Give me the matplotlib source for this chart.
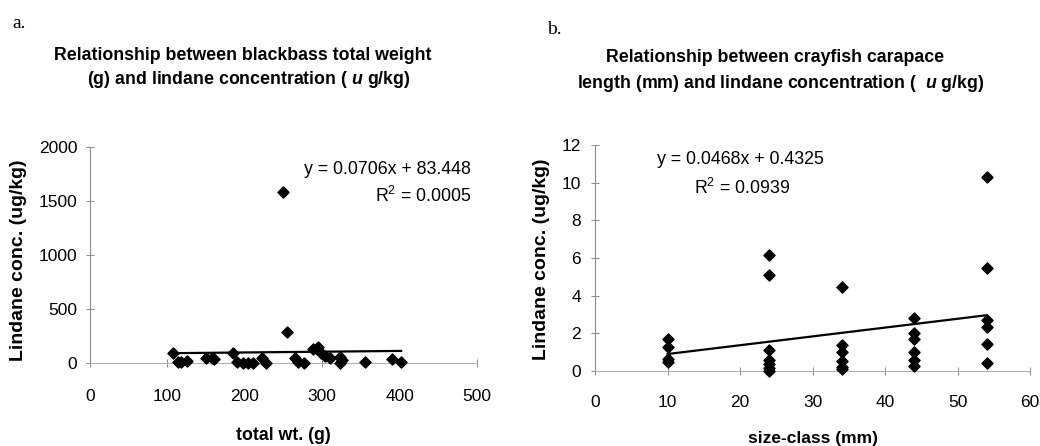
import matplotlib
matplotlib.use('Agg')
import matplotlib.pyplot as plt

# blackbass: total weight (g) vs lindane (ug/kg)
bass_wt = [107, 114, 118, 125, 150, 157, 160, 185, 190, 198, 204, 211, 222, 227,
           249, 254, 265, 269, 277, 288, 295, 299, 303, 310, 323, 323, 326, 355, 390, 402]
bass_lin = [90, 12, 12, 21, 50, 43, 40, 90, 12, 0, 0, 3, 43, 0,
            1580, 290, 43, 12, 0, 127, 151, 90, 65, 43, 58, 0, 28, 12, 34, 12]
bass_slope = 0.0706
bass_icpt = 83.448

# crayfish: size class (mm) vs lindane (ug/kg)
cray_size = [10, 10, 10, 10,
             24, 24, 24, 24, 24, 24, 24,
             34, 34, 34, 34, 34, 34,
             44, 44, 44, 44, 44, 44,
             54, 54, 54, 54, 54, 54]
cray_lin = [1.7, 1.27, 0.64, 0.48,
            6.16, 5.1, 1.1, 0.58, 0.37, 0.16, 0.02,
            4.46, 1.38, 1.0, 0.53, 0.21, 0.1,
            2.8, 2.0, 1.7, 1.0, 0.58, 0.27,
            10.3, 5.47, 2.7, 2.34, 1.43, 0.42]
cray_slope = 0.0468
cray_icpt = 0.4325

plt.rcParams['font.family'] = ['Liberation Sans', 'DejaVu Sans']
plt.rcParams['mathtext.fontset'] = 'custom'
plt.rcParams['mathtext.rm'] = 'Liberation Sans'
plt.rcParams['mathtext.it'] = 'Liberation Sans:italic:bold'

W, H = 1040, 446
fig = plt.figure(figsize=(W / 100, H / 100), dpi=100)

def fx(px):
	return px / W

def fy(py):
	return 1 - py / H

axis_grey = '#8a8a8a'

def style_axes(ax, xpad, ypad):
	for side in ['top', 'right']:
		ax.spines[side].set_visible(False)
	ax.spines['left'].set_color(axis_grey)
	ax.spines['bottom'].set_color('#b0b0b0')
	ax.spines['left'].set_linewidth(0.8)
	ax.spines['bottom'].set_linewidth(0.8)
	ax.tick_params(axis='both', direction='inout', length=6, width=0.7, colors=axis_grey,
				   labelcolor='black', labelsize=12.5)
	ax.tick_params(axis='x', pad=xpad)
	ax.tick_params(axis='y', pad=ypad)
	ax.patch.set_alpha(0)


# panel a
ax1 = fig.add_axes([fx(90), fy(363), fx(477) - fx(90), fy(147) - fy(363)])
ax1.scatter(bass_wt, bass_lin, marker='D', s=32, color='black', clip_on=False, zorder=3)
xs = [min(bass_wt), max(bass_wt)]
ax1.plot(xs, [bass_slope * v + bass_icpt for v in xs], color='black', lw=1.6, zorder=2)
ax1.set_xlim(0, 500)
ax1.set_ylim(0, 2000)
ax1.set_xticks([0, 100, 200, 300, 400, 500])
ax1.set_yticks([0, 500, 1000, 1500, 2000])
style_axes(ax1, 16, 6)

# panel b
ax2 = fig.add_axes([fx(595), fy(371), fx(1030) - fx(595), fy(145) - fy(371)])
ax2.scatter(cray_size, cray_lin, marker='D', s=32, color='black', clip_on=False, zorder=3)
xs = [min(cray_size), max(cray_size)]
ax2.plot(xs, [cray_slope * v + cray_icpt for v in xs], color='black', lw=1.6, zorder=2)
ax2.set_xlim(0, 60)
ax2.set_ylim(0, 12)
ax2.set_xticks([0, 10, 20, 30, 40, 50, 60])
ax2.set_yticks([0, 2, 4, 6, 8, 10, 12])
style_axes(ax2, 14, 7)

# panel letters
fig.text(fx(12), fy(23), 'a.', family='Liberation Serif', fontsize=14, va='center', ha='left')
fig.text(fx(547), fy(29), 'b.', family='Liberation Serif', fontsize=14, va='center', ha='left')

# titles
fig.text(fx(243), fy(55), 'Relationship between blackbass total weight', fontsize=12.8,
		 fontweight='bold', ha='center', va='center')
fig.text(fx(249), fy(80), '(g) and lindane concentration ( $\\mathit{u}$ g/kg)', fontsize=12.8,
		 fontweight='bold', ha='center', va='center')
fig.text(fx(775), fy(57), 'Relationship between crayfish carapace', fontsize=12.8,
		 fontweight='bold', ha='center', va='center')
fig.text(fx(781), fy(83), 'length (mm) and lindane concentration (  $\\mathit{u}$ g/kg)', fontsize=12.8,
		 fontweight='bold', ha='center', va='center')

# axis labels
fig.text(fx(19), fy(260), 'Lindane conc. (ug/kg)', fontsize=14, fontweight='bold',
		 rotation=90, ha='center', va='center')
fig.text(fx(541), fy(259), 'Lindane conc. (ug/kg)', fontsize=14, fontweight='bold',
		 rotation=90, ha='center', va='center')
fig.text(fx(283), fy(436), 'total wt. (g)', fontsize=12.8, fontweight='bold', ha='center', va='center')
fig.text(fx(813), fy(438), 'size-class (mm)', fontsize=12.5, fontweight='bold', ha='center', va='center')

# trendline equations
fig.text(fx(471), fy(169), 'y = 0.0706x + 83.448', fontsize=12.8, ha='right', va='center')
fig.text(fx(471), fy(196), 'R$^2$ = 0.0005', fontsize=12.8, ha='right', va='center')
fig.text(fx(740), fy(160), 'y = 0.0468x + 0.4325', fontsize=12.8, ha='center', va='center')
fig.text(fx(742), fy(188), 'R$^2$ = 0.0939', fontsize=12.8, ha='center', va='center')

fig.savefig('out.png', dpi=100)
